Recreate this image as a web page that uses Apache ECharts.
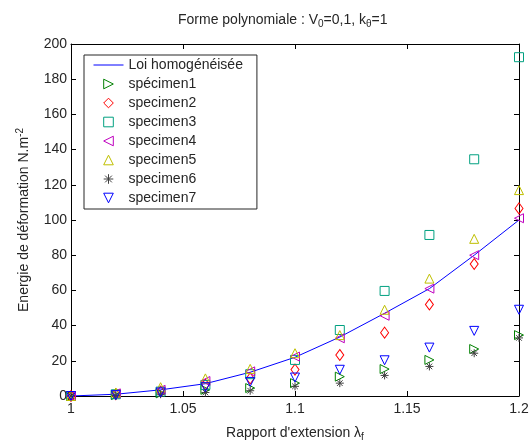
<!DOCTYPE html>
<html><head><meta charset="utf-8">
<script src="https://cdn.jsdelivr.net/npm/echarts@6/dist/echarts.min.js"></script>
<style>html,body{margin:0;padding:0;background:#fff}#c{width:532px;height:447px}</style>
</head><body><div id="c"></div>
<script>
const xValues = [1, 1.02, 1.04, 1.06, 1.08, 1.1, 1.12, 1.14, 1.16, 1.18, 1.2];
const loiHomogeneisee = [0, 1, 3.5, 7, 13.5, 22, 33.5, 47, 61, 80, 100];
const specimen1 = [0, 0.5, 1.5, 3.5, 4.5, 7.3, 11, 15.3, 20.5, 26.7, 34.6];
const specimen2 = [0, 1, 2.5, 6.5, 10, 15, 23.3, 36, 52, 75, 106.6];
const specimen3 = [0, 1, 2.5, 6.3, 12.4, 20.5, 37.5, 59.7, 91.5, 134.5, 192.5];
const specimen4 = [0, 1.5, 3.5, 8.5, 14, 22.4, 32.8, 45.6, 61, 80, 101];
const specimen5 = [0, 2, 5, 10, 15.4, 24.3, 34.6, 49, 66.7, 89.3, 117];
const specimen6 = [0, 0.3, 1, 2, 3, 5.5, 7.3, 11.7, 16.8, 24.3, 33];
const specimen7 = [0, 0.5, 2, 5, 8, 10.5, 14.9, 20.3, 27.5, 37, 49];
const seriesNames = ['Loi homogénéisée','spécimen1','specimen2','specimen3','specimen4','specimen5','specimen6','specimen7'];

const pairs = ys => xValues.map((x, i) => [x, ys[i]]);
const FONT = 'Liberation Sans, Arial, sans-serif';
const TXT = '#262626';
const star = 'path://M0,-1L0,1M-1,0L1,0M-0.7,-0.7L0.7,0.7M-0.7,0.7L0.7,-0.7';

// markers drawn as line series with invisible connecting lines (so legend icons keep marker shapes)
function sc(name, data, color, symbol, rot, size) {
  return {
    name, type: 'line', data: pairs(data), symbol, symbolRotate: rot || 0,
    symbolSize: size || 9, showSymbol: true, showAllSymbol: true,
    lineStyle: { width: 0, opacity: 0 },
    itemStyle: { color: 'rgba(0,0,0,0)', borderColor: color, borderWidth: 1 },
    emphasis: { disabled: true }, z: 4
  };
}

const legendData = seriesNames.map((n, i) => i === 0
  ? { name: n, itemStyle: { color: 'rgba(0,0,0,0)', borderColor: 'rgba(0,0,0,0)', borderWidth: 0, opacity: 0 } }
  : { name: n });

const chart = echarts.init(document.getElementById('c'), null, { renderer: 'canvas' });
chart.setOption({
  animation: false,
  backgroundColor: '#fff',
  title: {
    text: 'Forme polynomiale : V{s|0}=0,1, k{s|θ}=1',
    left: 173, top: 6,
    textStyle: {
      fontFamily: FONT, fontSize: 14, fontWeight: 'normal', color: TXT,
      rich: { s: { fontFamily: FONT, fontSize: 10, color: TXT, padding: [8, 0, 0, 0] } }
    }
  },
  legend: {
    data: legendData,
    orient: 'vertical', left: 84, top: 55,
    padding: [2, 14, 3, 9], itemGap: 3, itemWidth: 30, itemHeight: 12,
    borderColor: '#262626', borderWidth: 1, backgroundColor: '#fff',
    itemStyle: { borderWidth: 1 },
    lineStyle: { width: 1 },
    textStyle: { fontFamily: FONT, fontSize: 14, color: TXT, lineHeight: 16 },
    selectedMode: false
  },
  grid: { left: 71, right: 13, top: 44, bottom: 50 },
  xAxis: [{
    type: 'value', min: 1, max: 1.2, interval: 0.05,
    name: "Rapport d'extension λ{s|f}", nameLocation: 'middle', nameGap: 28,
    nameTextStyle: { fontFamily: FONT, fontSize: 14, color: TXT,
      rich: { s: { fontFamily: FONT, fontSize: 10, color: TXT, padding: [8, 0, 0, 0] } } },
    axisLine: { lineStyle: { color: '#000', width: 1 } },
    axisTick: { inside: true, length: 5, lineStyle: { color: '#000' } },
    axisLabel: { fontFamily: FONT, fontSize: 14, color: TXT, margin: 6 },
    splitLine: { show: false }
  }, {
    type: 'value', position: 'top', min: 1, max: 1.2, interval: 0.05,
    axisLine: { onZero: false, lineStyle: { color: '#000', width: 1 } },
    axisTick: { inside: true, length: 5, lineStyle: { color: '#000' } },
    axisLabel: { show: false }, splitLine: { show: false }
  }],
  yAxis: [{
    type: 'value', min: 0, max: 200, interval: 20,
    name: 'Energie de déformation N.m{p|-2}', nameLocation: 'middle', nameGap: 38,
    nameTextStyle: { fontFamily: FONT, fontSize: 14, color: TXT,
      rich: { p: { fontFamily: FONT, fontSize: 10, color: TXT, padding: [0, 0, 8, 0] } } },
    axisLine: { show: true, lineStyle: { color: '#000', width: 1 } },
    axisTick: { show: true, inside: true, length: 5, lineStyle: { color: '#000' } },
    axisLabel: { fontFamily: FONT, fontSize: 14, color: TXT, margin: 4 },
    splitLine: { show: false }
  }, {
    type: 'value', position: 'right', min: 0, max: 200, interval: 20,
    axisLine: { show: true, onZero: false, lineStyle: { color: '#000', width: 1 } },
    axisTick: { show: true, inside: true, length: 5, lineStyle: { color: '#000' } },
    axisLabel: { show: false }, splitLine: { show: false }
  }],
  series: [
    { name: 'Loi homogénéisée', type: 'line', data: pairs(loiHomogeneisee), showSymbol: false,
      symbol: 'none', lineStyle: { color: '#0000ff', width: 1 }, itemStyle: { color: '#0000ff' },
      emphasis: { disabled: true }, z: 3 },
    sc('spécimen1', specimen1, '#008000', 'triangle', -90),
    sc('specimen2', specimen2, '#ff0000', 'diamond', 0, [8, 11]),
    sc('specimen3', specimen3, '#00a080', 'rect', 0, 9),
    sc('specimen4', specimen4, '#bf00bf', 'triangle', 90),
    sc('specimen5', specimen5, '#bfbf00', 'triangle', 0),
    sc('specimen6', specimen6, '#404040', star, 0, 8),
    sc('specimen7', specimen7, '#0000ff', 'triangle', 180)
  ]
});
</script></body></html>
